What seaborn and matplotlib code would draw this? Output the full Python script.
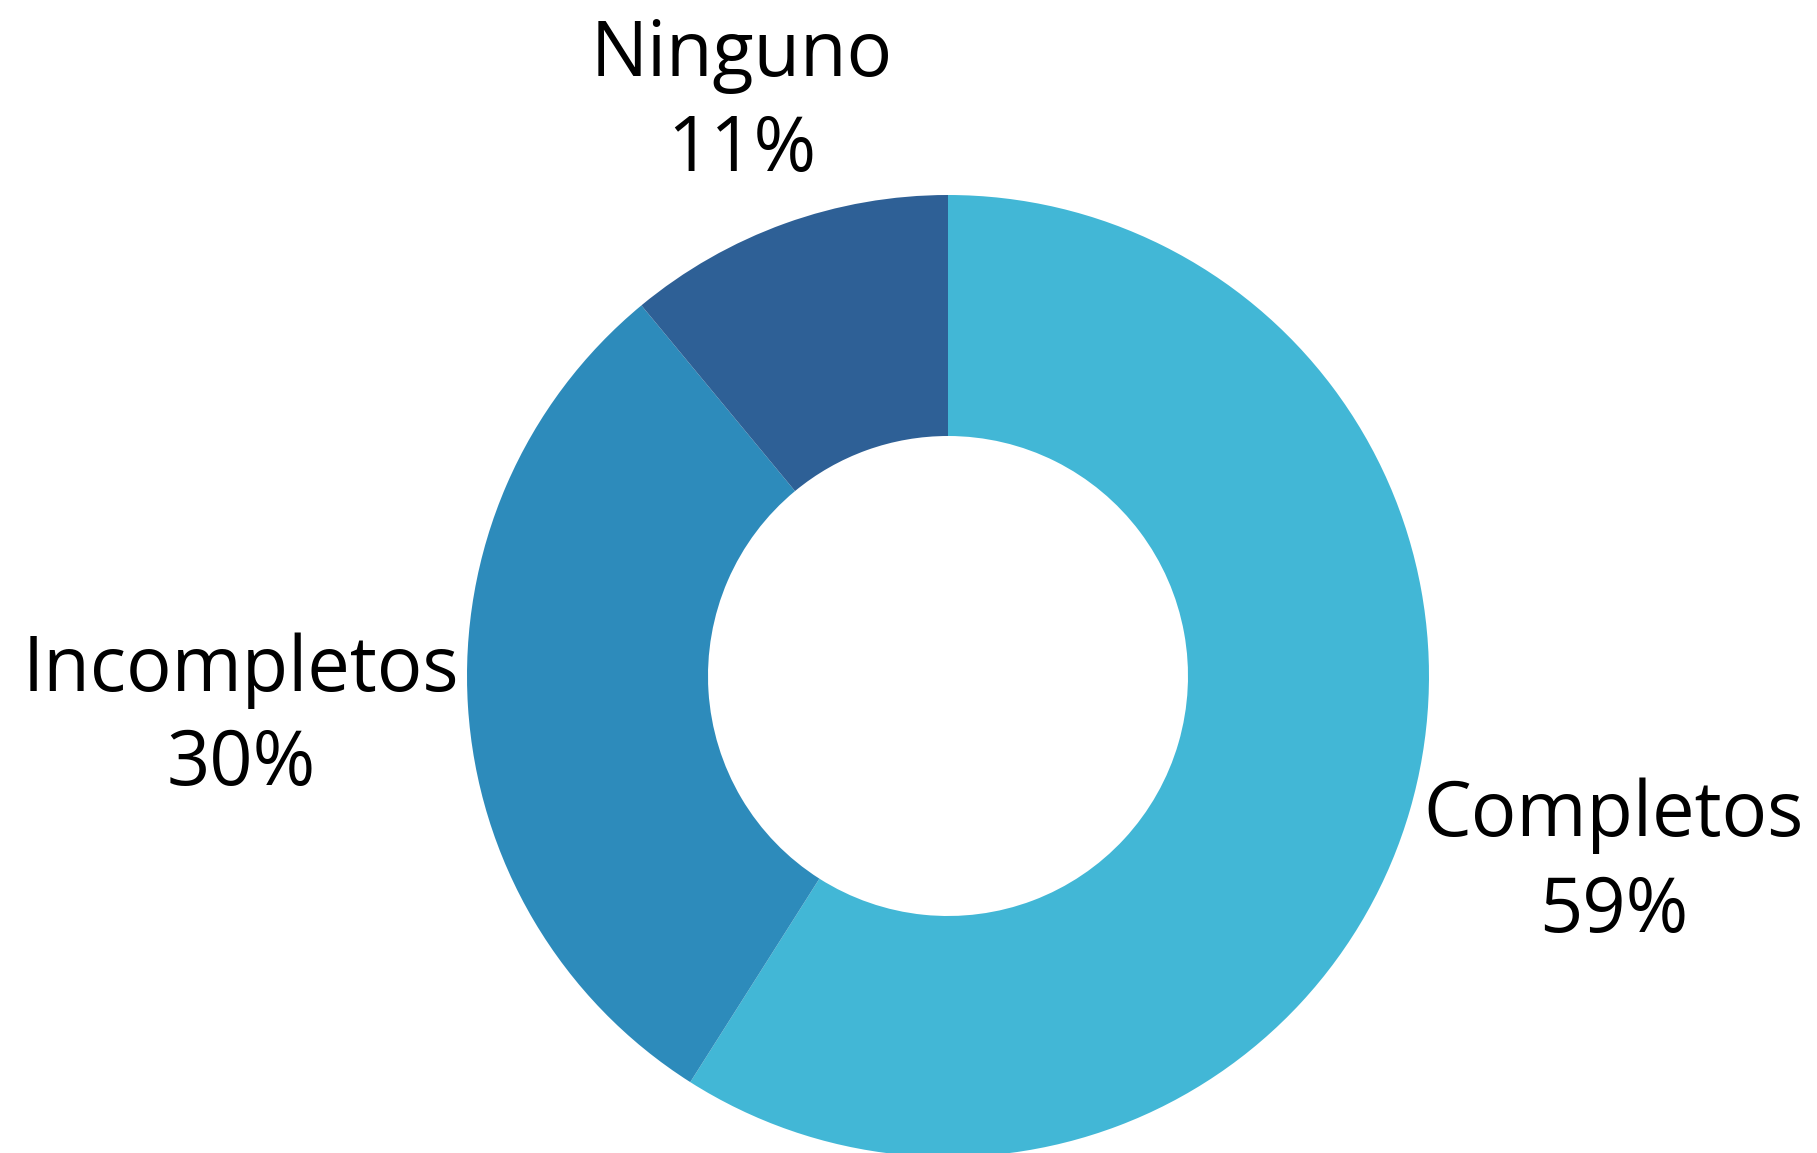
import matplotlib
matplotlib.use("Agg")
import matplotlib.pyplot as plt
import seaborn as sns

categories = ["Completos", "Incompletos", "Ninguno"]
values = [59, 30, 11]
colors = ["#42B7D6", "#2D8BBB", "#2E6096"]

sns.set_theme(style="white")
plt.rcParams["font.family"] = ["Open Sans", "DejaVu Sans"]

W, H = 1817, 1153
fig = plt.figure(figsize=(W / 100, H / 100), dpi=100)
ax = fig.add_axes([0, 0, 1, 1])

cx, cy = 948, H - 676
R = 481
ax.pie(values, colors=colors, startangle=90, counterclock=False,
       center=(cx, cy), radius=R, frame=True,
       wedgeprops=dict(width=R - 240, linewidth=0))
ax.set_xlim(0, W)
ax.set_ylim(0, H)
ax.set_aspect("equal")
ax.axis("off")

# label positions (pixel coordinates of text baselines, top-down)
label_pos = {"Completos": (1614, 836, 932),
             "Incompletos": (241, 691, 785),
             "Ninguno": (742, 76, 171)}
for cat, v in zip(categories, values):
    x, y1, y2 = label_pos[cat]
    ax.text(x, H - y1, cat, ha="center", va="baseline", fontsize=54.5, color="black")
    ax.text(x, H - y2, f"{v}%", ha="center", va="baseline", fontsize=54.5, color="black")

fig.savefig("out.png", dpi=100, facecolor="white")
